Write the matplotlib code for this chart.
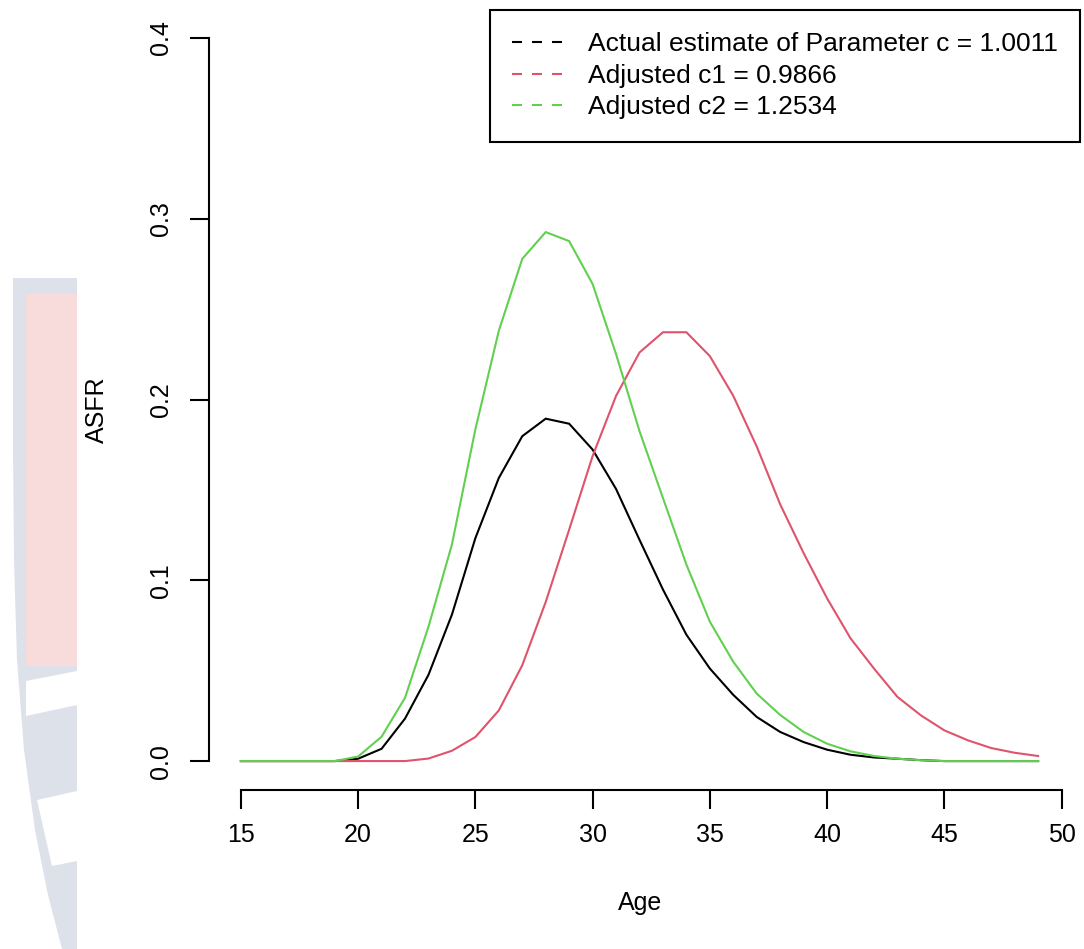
import matplotlib
matplotlib.use("Agg")
import matplotlib.pyplot as plt
from matplotlib.patches import Polygon

plt.rcParams['font.family'] = ['Liberation Sans', 'DejaVu Sans']

# ---- data -------------------------------------------------------------
ages = list(range(15, 50))

asfr_actual = [0.0, 0.0, 0.0, 0.0, 0.0, 0.0013, 0.0068, 0.0235, 0.0477, 0.081,
               0.1233, 0.1566, 0.1797, 0.1894, 0.1866, 0.1723, 0.1505, 0.1224,
               0.0949, 0.0699, 0.0512, 0.0366, 0.0244, 0.0161, 0.0105, 0.0063,
               0.0035, 0.002, 0.0013, 0.0005, 0.0, 0.0, 0.0, 0.0, 0.0]

asfr_c1 = [0.0, 0.0, 0.0, 0.0, 0.0, 0.0, 0.0, 0.0, 0.0014, 0.0057,
           0.0133, 0.028, 0.053, 0.088, 0.128, 0.1687, 0.202, 0.226,
           0.2372, 0.2372, 0.224, 0.202, 0.174, 0.142, 0.115, 0.090,
           0.0679, 0.0512, 0.0355, 0.0253, 0.017, 0.0115, 0.0072, 0.0046, 0.0028]

asfr_c2 = [0.0, 0.0, 0.0, 0.0, 0.0, 0.0025, 0.0135, 0.035, 0.0743, 0.1198,
           0.1835, 0.238, 0.2778, 0.2926, 0.2876, 0.2639, 0.2251, 0.1825,
           0.1455, 0.1087, 0.0771, 0.0549, 0.0373, 0.0255, 0.0161, 0.0096,
           0.0054, 0.0028, 0.0013, 0.0005, 0.0, 0.0, 0.0, 0.0, 0.0]

labels = ["Actual estimate of Parameter c = 1.0011",
          "Adjusted c1 = 0.9866",
          "Adjusted c2 = 1.2534"]
colors = ["black", "#DF536B", "#61D04F"]

x_ticks = [15, 20, 25, 30, 35, 40, 45, 50]
y_ticks = [0.0, 0.1, 0.2, 0.3, 0.4]

# ---- figure -----------------------------------------------------------
W, H = 1084, 949
fig = plt.figure(figsize=(W / 100, H / 100), dpi=100)


def fp(x, y):
    """pixel position (from top-left) -> figure fraction"""
    return (x / W, 1 - y / H)


# faint page emblem peeking out on the left edge
gray = "#dde1ea"
pink = "#f8dcdc"
outer = [fp(13, 278), fp(77, 278), fp(77, 949), fp(62, 949), fp(48, 895),
         fp(35, 830), fp(24, 750), fp(17, 660), fp(14, 560), fp(13, 450)]
fig.add_artist(Polygon(outer, closed=True, facecolor=gray, edgecolor="none",
                       transform=fig.transFigure, zorder=0))
fig.add_artist(Polygon([fp(26, 294), fp(77, 294), fp(77, 666), fp(26, 666)],
                       closed=True, facecolor=pink, edgecolor="none",
                       transform=fig.transFigure, zorder=0))
fig.add_artist(Polygon([fp(26, 681), fp(77, 671), fp(77, 705), fp(26, 716)],
                       closed=True, facecolor="white", edgecolor="none",
                       transform=fig.transFigure, zorder=0))
fig.add_artist(Polygon([fp(37, 800), fp(77, 791), fp(77, 861), fp(52, 866)],
                       closed=True, facecolor="white", edgecolor="none",
                       transform=fig.transFigure, zorder=0))

left, right, top, bottom = 209, 1070, 9, 790
ax = fig.add_axes([left / W, 1 - bottom / H, (right - left) / W, (bottom - top) / H])
ax.set_facecolor("none")

for vals, col in zip([asfr_actual, asfr_c1, asfr_c2], colors):
    ax.plot(ages, vals, color=col, lw=1.5, solid_joinstyle="miter")

ax.set_xlim(13.64, 50.36)
ax.set_ylim(-0.016, 0.416)

for s in ["top", "right"]:
    ax.spines[s].set_visible(False)
ax.spines["left"].set_bounds(0, 0.4)
ax.spines["bottom"].set_bounds(15, 50)
for s in ["left", "bottom"]:
    ax.spines[s].set_linewidth(1.5)

ax.set_xticks(x_ticks)
ax.set_yticks(y_ticks)
ax.set_xticklabels([str(t) for t in x_ticks])
ax.set_yticklabels([f"{t:.1f}" for t in y_ticks], rotation=90, va="center")
ax.tick_params(axis="both", direction="out", length=13.5, width=1.5,
               labelsize=18, colors="black")
ax.tick_params(axis="x", pad=10)
ax.tick_params(axis="y", pad=12.5)

fig.text(640 / W, 1 - 903 / H, "Age", ha="center", va="center", fontsize=18)
fig.text(97 / W, 1 - 410 / H, "ASFR", ha="center", va="center",
         rotation=90, fontsize=18)

# legend (dashed sample keys, square black frame)
handles = [plt.Line2D([], [], color=c, lw=1.5, linestyle=(0, (4.8, 4.8)))
           for c in colors]
leg = ax.legend(handles, labels, loc="upper right",
                bbox_to_anchor=(1080 / W, 1 - 10 / H),
                bbox_transform=fig.transFigure, fontsize=19,
                frameon=True, fancybox=False, framealpha=1,
                edgecolor="black", borderpad=0.85, handlelength=1.9,
                handletextpad=0.95, labelspacing=0.28, borderaxespad=0)
leg.get_frame().set_linewidth(1.5)

fig.savefig("out.png", dpi=100, facecolor="white")
